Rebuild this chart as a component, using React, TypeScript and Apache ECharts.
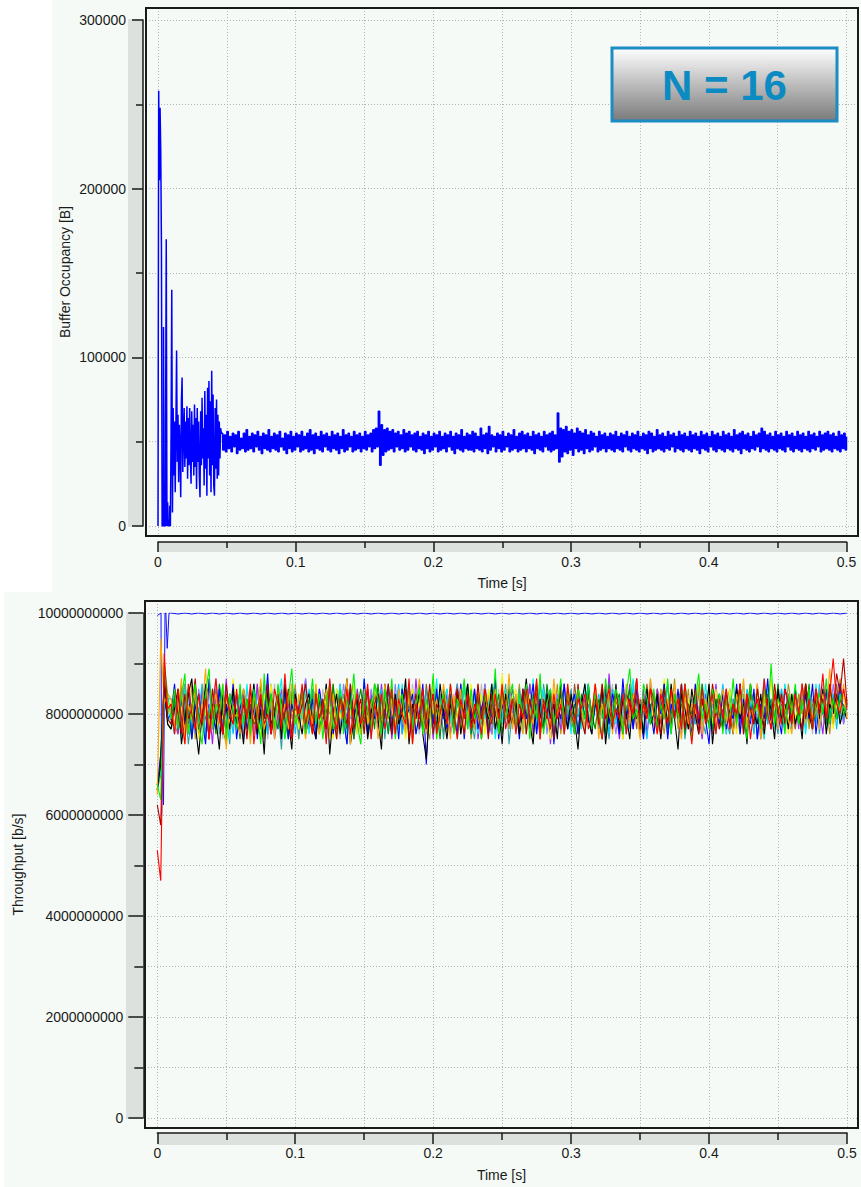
import React, { useEffect, useRef } from "react";
import * as echarts from "echarts";

// ---------------- data ----------------
// Time axis (s)
const timeMin = 0;
const timeMax = 0.5;
const timeInterval = 0.1;

// Top panel: buffer occupancy [B], values typed in kB
const bufferMax = 300000;
const bufferInterval = 100000;
const bufferEarlyStep = 0.0005; // samples from t = 0
const bufferEarly = [
  0, 258, 205, 248, 222, 165, 0, 0, 118, 0,
  0, 60, 170, 0, 14, 0, 0, 12, 0, 55,
  140, 8, 70, 30, 62, 20, 58, 104, 38, 66,
  26, 60, 45, 17, 74, 88, 32, 55, 70, 35,
  62, 40, 71, 28, 64, 36, 70, 42, 25, 68,
  38, 60, 30, 72, 35, 64, 22, 70, 38, 62,
  30, 17, 68, 36, 76, 40, 58, 24, 80, 34,
  66, 18, 82, 40, 86, 30, 74, 20, 92, 36,
  78, 24, 18, 70, 34, 75, 28, 66, 30, 62,
  40, 58,
];
const bufferSteadyStart = 0.046;
const bufferSteadyStep = 0.001;
const bufferSteady = [
  55, 45, 54, 44, 56, 46, 53, 44, 55, 47, 54, 43, 56, 45, 52, 46, 55, 44, 57, 45,
  53, 46, 55, 44, 54, 47, 56, 45, 53, 43, 55, 46, 54, 45, 57, 44, 53, 46, 55, 45,
  54, 44, 56, 47, 52, 45, 55, 43, 54, 46, 56, 44, 53, 45, 55, 47, 54, 44, 56, 45,
  53, 46, 55, 44, 57, 45, 54, 43, 55, 46, 53, 45, 56, 44, 54, 47, 55, 45, 53, 44,
  56, 46, 54, 45, 55, 43, 53, 46, 57, 44, 54, 45, 55, 47, 53, 44, 56, 45, 54, 46,
  55, 44, 53, 46, 56, 45, 54, 47, 55, 44, 57, 46, 58, 47, 68, 36, 60, 42, 57, 44,
  58, 45, 56, 46, 57, 44, 55, 47, 56, 45, 54, 46, 57, 44, 55, 45, 56, 47, 54, 45,
  55, 44, 56, 46, 53, 45, 55, 43, 54, 46, 56, 44, 53, 45, 55, 47, 54, 44, 56, 45,
  53, 46, 55, 44, 54, 47, 56, 45, 53, 43, 55, 46, 54, 45, 57, 44, 53, 46, 55, 45,
  54, 45, 56, 44, 55, 46, 53, 45, 58, 44, 54, 46, 55, 43, 59, 45, 54, 47, 53, 44,
  55, 46, 54, 44, 56, 45, 53, 47, 55, 44, 54, 45, 57, 46, 53, 44, 55, 45, 56, 46,
  54, 44, 55, 46, 53, 45, 56, 43, 54, 46, 55, 45, 53, 44, 56, 47, 54, 45, 55, 44,
  56, 45, 54, 46, 67, 38, 58, 41, 57, 44, 59, 43, 56, 45, 57, 42, 55, 46, 58, 44,
  56, 45, 55, 43, 57, 46, 54, 44, 56, 45, 55, 47, 53, 44, 56, 45, 54, 46, 55, 44,
  53, 46, 55, 45, 54, 44, 56, 46, 53, 45, 55, 44, 54, 47, 56, 45, 53, 44, 55, 46,
  54, 45, 56, 44, 53, 46, 55, 45, 54, 43, 56, 46, 55, 44, 53, 45, 57, 46, 54, 45,
  55, 44, 53, 46, 56, 45, 54, 47, 55, 44, 53, 46, 56, 45, 54, 44, 55, 46, 53, 45,
  56, 44, 54, 46, 55, 45, 53, 43, 56, 46, 54, 45, 55, 44, 53, 47, 56, 45, 54, 44,
  55, 46, 53, 45, 56, 44, 54, 46, 55, 45, 53, 44, 57, 46, 54, 45, 55, 43, 56, 46,
  54, 45, 55, 44, 53, 46, 56, 45, 54, 47, 55, 44, 58, 46, 56, 45, 54, 44, 55, 46,
  53, 45, 56, 44, 54, 46, 55, 45, 53, 44, 56, 47, 54, 45, 55, 44, 53, 46, 56, 45,
  54, 44, 55, 46, 53, 45, 56, 44, 54, 46, 55, 45, 53, 47, 56, 44, 54, 45, 55, 46,
  56, 45, 54, 44, 55, 46, 53, 45, 56, 44, 54, 46, 55, 45, 53,
];

// Bottom panel: throughput [b/s], values typed in units of 1e8 b/s
const throughputMax = 10000000000;
const throughputInterval = 2000000000;

// aggregate (blue, top line)
const aggStartTimes = [0, 0.0027, 0.0031, 0.0036, 0.0045, 0.0056, 0.0062, 0.0072, 0.0077, 0.0085, 0.009, 0.0095];
const aggStartValues = [99.5, 100, 60, 70, 62, 100, 100, 93, 93, 100, 100, 100];
const aggSteadyStart = 0.01;
const aggSteadyStep = 0.005;
const aggSteady = [
  100, 99.8, 100, 99.8, 100, 99.8, 100, 99.8, 100, 99.8, 100, 99.8, 100, 99.8, 100, 99.8, 100, 99.8, 100, 99.8,
  100, 99.8, 100, 99.8, 100, 99.8, 100, 99.8, 100, 99.8, 100, 99.8, 100, 99.8, 100, 99.8, 100, 99.8, 100, 99.8,
  100, 99.8, 100, 99.8, 100, 99.8, 100, 99.8, 100, 99.8, 100, 99.8, 100, 99.8, 100, 99.8, 100, 99.8, 100, 99.8,
  100, 99.8, 100, 99.8, 100, 99.8, 100, 99.8, 100, 99.8, 100, 99.8, 100, 99.8, 100, 99.8, 100, 99.8, 100, 99.8,
  100, 99.8, 100, 99.8, 100, 99.8, 100, 99.8, 100, 99.8, 100, 99.8, 100, 99.8, 100, 99.8, 100, 99.8, 100,
];

// 16 flows: first 4 values at flowStartTimes, then steady samples every flowSteadyStep
const flowStartTimes = [0, 0.0025, 0.005, 0.0075];
const flowSteadyStart = 0.01;
const flowSteadyStep = 0.0025;

const flowGrey = [66, 69, 83, 81,
  81, 77, 84, 80, 75, 85, 79, 82, 76, 86, 80, 77, 84, 79, 81, 75, 85, 80, 77, 83,
  80, 84, 77, 81, 76, 85, 79, 83, 75, 80, 86, 77, 81, 84, 79, 76, 85, 80, 83, 77,
  79, 83, 80, 76, 85, 81, 77, 84, 80, 75, 82, 79, 86, 77, 81, 80, 76, 84, 79, 83,
  80, 77, 85, 81, 76, 84, 79, 80, 83, 77, 86, 80, 76, 82, 79, 85, 81, 77, 80, 84,
  78, 82, 76, 85, 80, 83, 77, 84, 81, 79, 86, 77, 83, 80, 76, 85, 79, 82, 80, 77,
  84, 79, 81, 76, 86, 80, 78, 83, 79, 85, 77, 82, 80, 86, 76, 81, 84, 78, 80, 83,
  77, 85, 80, 82, 79, 75, 84, 81, 86, 78, 83, 80, 77, 85, 79, 82, 76, 84, 80, 87,
  82, 78, 85, 80, 76, 84, 79, 81, 77, 86, 80, 83, 78, 84, 75, 82, 80, 85, 79, 81,
  79, 84, 77, 83, 80, 86, 78, 81, 85, 76, 83, 80, 79, 85, 77, 84, 81, 78, 86, 80,
  83, 77, 81, 85, 79, 82, 76, 84, 80, 86, 78, 83, 80, 85, 79, 81, 80];
const flowSienna = [66, 71, 83, 79,
  79, 83, 80, 77, 85, 81, 76, 84, 80, 78, 83, 86, 77, 81, 80, 76, 84, 79, 82, 80,
  77, 85, 81, 78, 84, 76, 83, 80, 86, 77, 81, 79, 84, 80, 76, 83, 85, 78, 81, 77,
  80, 84, 78, 82, 77, 85, 80, 81, 76, 84, 79, 86, 80, 77, 83, 81, 78, 85, 76, 80,
  84, 78, 81, 77, 83, 80, 85, 76, 82, 84, 78, 80, 83, 77, 86, 80, 78, 84, 81, 76,
  82, 79, 77, 85, 80, 82, 84, 79, 77, 83, 80, 86, 79, 76, 82, 81, 78, 85, 80, 83,
  77, 84, 81, 79, 86, 77, 82, 80, 85, 78, 83, 76, 81, 84, 79, 82, 77, 86, 80, 78,
  83, 80, 77, 84, 79, 81, 86, 78, 82, 80, 76, 85, 81, 79, 84, 77, 83, 80, 86, 79,
  80, 85, 78, 82, 76, 84, 80, 83, 79, 86, 77, 82, 80, 85, 78, 81, 84, 76, 83, 80,
  78, 83, 81, 77, 85, 80, 82, 76, 84, 79, 86, 78, 81, 83, 77, 85, 80, 82, 79, 84,
  81, 77, 84, 80, 86, 78, 82, 79, 85, 80, 77, 83, 81, 86, 79, 82, 80];
const flowOlive = [65, 68, 85, 80,
  82, 78, 76, 85, 80, 77, 86, 75, 81, 84, 79, 76, 85, 80, 83, 77, 74, 84, 81, 79,
  85, 76, 80, 83, 77, 86, 79, 75, 84, 81, 76, 85, 80, 77, 83, 79, 86, 75, 81, 84,
  77, 80, 85, 76, 83, 79, 81, 86, 75, 80, 84, 77, 83, 79, 85, 76, 81, 80, 77, 86,
  84, 75, 81, 79, 85, 77, 83, 80, 76, 86, 79, 81, 84, 77, 80, 75, 85, 83, 79, 81,
  76, 84, 80, 77, 86, 79, 83, 75, 81, 85, 78, 80, 84, 76, 83, 79, 81, 85, 77, 82,
  80, 86, 77, 83, 79, 75, 85, 80, 82, 77, 84, 79, 86, 76, 81, 83, 78, 80, 85, 77,
  83, 79, 76, 84, 81, 86, 77, 80, 85, 78, 82, 75, 84, 80, 79, 86, 76, 83, 81, 78,
  79, 85, 81, 76, 83, 80, 87, 77, 82, 79, 85, 76, 81, 84, 78, 80, 86, 77, 83, 80,
  77, 82, 85, 79, 80, 76, 84, 81, 86, 78, 83, 79, 75, 85, 80, 82, 77, 84, 79, 86,
  81, 78, 84, 80, 86, 77, 83, 79, 85, 80, 82, 76, 84, 81, 87, 79, 83];
const flowPurple = [65, 70, 86, 79,
  79, 84, 76, 81, 86, 78, 80, 83, 77, 85, 79, 82, 74, 84, 80, 78, 87, 76, 83, 79,
  85, 75, 81, 80, 78, 86, 77, 83, 79, 84, 75, 80, 85, 78, 82, 76, 84, 79, 81, 87,
  77, 83, 78, 85, 80, 75, 84, 81, 79, 86, 77, 80, 83, 75, 85, 79, 82, 76, 84, 80,
  78, 86, 79, 83, 75, 81, 85, 77, 80, 84, 76, 87, 79, 82, 78, 85, 75, 83, 80, 79,
  84, 76, 82, 86, 78, 80, 83, 79, 85, 75, 81, 84, 77, 80, 87, 76, 83, 79, 81, 85,
  80, 77, 84, 79, 86, 76, 82, 80, 78, 85, 74, 83, 80, 77, 86, 79, 82, 76, 84, 81,
  83, 79, 76, 85, 80, 82, 77, 88, 79, 81, 75, 84, 80, 86, 77, 83, 79, 85, 76, 82,
  77, 85, 80, 83, 76, 84, 79, 81, 86, 77, 82, 78, 85, 80, 75, 84, 81, 79, 86, 78,
  81, 76, 84, 80, 85, 78, 83, 77, 86, 79, 82, 75, 84, 80, 78, 85, 77, 83, 80, 84,
  79, 83, 77, 86, 80, 82, 78, 85, 81, 76, 84, 80, 83, 79, 86, 78, 82];
const flowSlate = [66, 70, 84, 83,
  83, 80, 77, 82, 86, 79, 81, 76, 85, 80, 83, 78, 80, 87, 79, 82, 76, 84, 80, 78,
  82, 79, 85, 81, 76, 84, 80, 86, 77, 81, 79, 84, 76, 83, 80, 85, 78, 81, 79, 87,
  80, 77, 84, 81, 79, 85, 76, 83, 80, 77, 86, 81, 79, 84, 76, 80, 83, 79, 85, 81,
  77, 84, 80, 83, 76, 86, 79, 81, 84, 77, 80, 85, 79, 83, 76, 82, 80, 86, 77, 83,
  80, 84, 78, 82, 79, 85, 80, 83, 77, 81, 79, 86, 80, 76, 84, 82, 78, 85, 79, 81,
  84, 78, 81, 86, 77, 83, 80, 79, 85, 76, 82, 80, 84, 78, 86, 79, 81, 77, 83, 80,
  79, 85, 77, 82, 80, 84, 78, 86, 81, 76, 83, 79, 85, 80, 78, 84, 77, 82, 80, 86,
  81, 77, 84, 79, 86, 78, 82, 80, 76, 85, 81, 79, 83, 77, 86, 80, 78, 84, 81, 79,
  85, 80, 78, 83, 77, 86, 79, 82, 80, 84, 76, 81, 85, 79, 83, 78, 86, 80, 77, 82,
  80, 84, 79, 86, 77, 82, 80, 85, 78, 83, 81, 79, 86, 80, 84, 78, 82];
const flowTeal = [66, 68, 83, 81,
  81, 76, 84, 79, 83, 74, 80, 86, 77, 83, 75, 81, 79, 85, 76, 82, 80, 74, 86, 79,
  84, 77, 81, 75, 85, 80, 77, 83, 76, 86, 79, 81, 73, 84, 80, 77, 85, 75, 83, 79,
  80, 85, 76, 83, 78, 86, 75, 81, 84, 77, 80, 74, 85, 79, 83, 76, 84, 80, 77, 86,
  79, 83, 75, 85, 80, 76, 84, 78, 82, 86, 75, 83, 77, 80, 85, 76, 81, 79, 84, 75,
  83, 80, 77, 86, 76, 81, 85, 79, 75, 84, 80, 83, 77, 85, 76, 82, 79, 86, 74, 81,
  78, 85, 80, 76, 84, 79, 82, 75, 86, 80, 77, 83, 79, 84, 76, 81, 85, 78, 80, 83,
  76, 82, 79, 86, 77, 84, 80, 75, 83, 81, 78, 85, 76, 82, 80, 87, 77, 83, 79, 84,
  81, 77, 85, 79, 82, 76, 84, 80, 86, 75, 81, 83, 78, 85, 79, 76, 84, 80, 82, 77,
  85, 79, 76, 83, 80, 86, 77, 82, 79, 84, 75, 81, 86, 78, 83, 80, 76, 85, 79, 82,
  77, 84, 80, 86, 78, 82, 79, 85, 76, 83, 80, 84, 78, 81, 85, 79, 82];
const flowSky = [65, 69, 85, 80,
  80, 76, 84, 81, 78, 85, 77, 83, 80, 86, 76, 81, 84, 79, 80, 77, 85, 81, 76, 83,
  79, 84, 80, 77, 86, 81, 78, 83, 76, 85, 80, 77, 84, 81, 79, 86, 76, 82, 80, 78,
  85, 80, 78, 83, 77, 84, 81, 76, 85, 80, 83, 78, 86, 77, 81, 80, 84, 76, 83, 79,
  80, 85, 77, 82, 79, 81, 86, 76, 80, 84, 78, 83, 77, 85, 80, 81, 76, 84, 79, 82,
  85, 79, 77, 83, 80, 86, 81, 76, 84, 80, 78, 85, 77, 82, 80, 79, 84, 78, 86, 81,
  77, 83, 80, 85, 78, 82, 76, 86, 80, 79, 84, 77, 83, 81, 78, 85, 80, 76, 84, 82,
  80, 86, 77, 81, 84, 79, 83, 76, 85, 80, 78, 84, 81, 77, 86, 79, 82, 80, 75, 85,
  81, 78, 84, 80, 86, 77, 82, 79, 85, 76, 83, 80, 78, 86, 81, 79, 84, 77, 82, 80,
  86, 79, 81, 77, 84, 80, 78, 85, 82, 76, 83, 80, 87, 78, 81, 84, 79, 85, 77, 82,
  79, 84, 80, 85, 77, 83, 81, 78, 86, 80, 82, 79, 84, 77, 85, 80, 81];
const flowCyan = [65, 69, 84, 80,
  78, 83, 80, 75, 85, 79, 82, 86, 77, 80, 84, 76, 83, 79, 86, 78, 81, 75, 85, 80,
  83, 77, 86, 79, 81, 76, 84, 80, 78, 85, 77, 82, 87, 75, 80, 84, 78, 83, 79, 86,
  76, 81, 85, 78, 83, 75, 84, 80, 77, 86, 81, 76, 85, 79, 83, 77, 87, 80, 75, 84,
  81, 79, 85, 76, 83, 80, 77, 86, 79, 82, 84, 76, 80, 85, 77, 83, 79, 87, 76, 82,
  85, 78, 82, 75, 81, 86, 77, 83, 80, 76, 84, 79, 82, 86, 75, 81, 78, 85, 80, 83,
  79, 84, 76, 82, 80, 87, 77, 81, 85, 78, 83, 75, 80, 86, 79, 82, 76, 84, 81, 77,
  86, 80, 77, 84, 79, 82, 75, 85, 81, 78, 84, 80, 76, 83, 87, 79, 81, 77, 85, 80,
  78, 83, 80, 86, 76, 82, 79, 84, 77, 85, 80, 75, 83, 81, 78, 86, 79, 82, 76, 84,
  82, 76, 85, 79, 83, 80, 86, 77, 81, 84, 78, 82, 75, 85, 80, 77, 84, 79, 86, 81,
  80, 85, 78, 83, 76, 84, 80, 86, 79, 82, 77, 85, 80, 83, 78, 84, 80];
const flowYellow = [66, 71, 84, 82,
  80, 77, 85, 81, 76, 84, 79, 86, 75, 82, 80, 77, 85, 76, 81, 79, 84, 77, 87, 80,
  76, 83, 79, 85, 78, 82, 75, 84, 80, 86, 77, 83, 79, 76, 85, 80, 81, 77, 84, 79,
  83, 76, 86, 80, 77, 84, 81, 75, 85, 79, 83, 77, 80, 86, 76, 81, 84, 79, 77, 85,
  80, 76, 83, 79, 86, 77, 82, 84, 75, 80, 85, 78, 83, 77, 82, 76, 87, 80, 79, 84,
  77, 83, 80, 85, 76, 82, 79, 86, 78, 80, 84, 76, 85, 79, 81, 77, 88, 80, 78, 83,
  85, 78, 81, 76, 84, 80, 86, 77, 83, 79, 75, 85, 80, 82, 77, 86, 79, 83, 76, 81,
  79, 84, 77, 86, 80, 82, 76, 85, 78, 83, 80, 75, 84, 81, 79, 86, 77, 82, 80, 85,
  76, 82, 80, 87, 78, 84, 79, 81, 85, 77, 83, 79, 86, 76, 82, 80, 84, 78, 85, 79,
  83, 77, 85, 80, 76, 84, 81, 78, 86, 79, 82, 77, 84, 80, 87, 78, 83, 79, 81, 76,
  84, 79, 82, 77, 86, 80, 78, 85, 81, 83, 79, 86, 77, 82, 80, 84, 79];
const flowDarkGreen = [65, 72, 87, 78,
  77, 83, 80, 86, 79, 81, 75, 84, 80, 78, 85, 79, 82, 76, 86, 80, 77, 84, 79, 81,
  75, 85, 80, 82, 78, 79, 86, 76, 81, 84, 80, 77, 83, 79, 75, 85, 81, 80, 84, 77,
  83, 79, 85, 77, 80, 81, 76, 86, 79, 83, 80, 77, 84, 75, 81, 85, 79, 80, 83, 77,
  86, 79, 81, 76, 84, 80, 78, 85, 79, 82, 76, 81, 86, 80, 77, 84, 79, 81, 75, 85,
  80, 83, 77, 84, 79, 81, 86, 76, 80, 83, 79, 85, 77, 82, 80, 84, 76, 81, 85, 78,
  82, 76, 85, 80, 78, 84, 79, 83, 77, 86, 80, 75, 83, 81, 78, 85, 79, 82, 76, 84,
  79, 85, 80, 77, 83, 81, 76, 86, 79, 82, 84, 77, 80, 85, 78, 83, 80, 76, 85, 81,
  84, 78, 81, 86, 77, 80, 83, 79, 85, 76, 82, 80, 84, 78, 86, 79, 81, 77, 83, 80,
  77, 84, 80, 82, 79, 86, 76, 83, 81, 78, 85, 80, 77, 84, 82, 79, 86, 78, 81, 83,
  80, 85, 78, 83, 79, 86, 77, 82, 80, 84, 78, 85, 81, 79, 83, 80, 82];
const flowBlue = [66, 72, 85, 79,
  80, 86, 77, 83, 78, 85, 75, 81, 84, 79, 74, 87, 80, 77, 85, 76, 82, 79, 86, 75,
  81, 84, 77, 80, 85, 75, 83, 79, 88, 76, 80, 84, 77, 86, 75, 82, 79, 81, 85, 76,
  79, 83, 75, 85, 80, 77, 86, 76, 81, 84, 79, 74, 85, 80, 83, 77, 87, 76, 81, 79,
  84, 76, 80, 86, 77, 83, 75, 85, 79, 81, 84, 76, 80, 86, 70, 83, 78, 85, 77, 81,
  77, 84, 80, 76, 86, 75, 83, 79, 85, 77, 81, 84, 76, 80, 87, 75, 82, 79, 84, 78,
  82, 75, 85, 79, 81, 86, 76, 83, 78, 80, 85, 74, 82, 79, 86, 77, 81, 84, 76, 83,
  79, 86, 77, 82, 80, 75, 85, 78, 84, 81, 76, 87, 79, 83, 77, 85, 80, 75, 84, 81,
  76, 83, 80, 86, 75, 82, 79, 85, 77, 84, 80, 76, 86, 78, 83, 79, 74, 85, 81, 78,
  84, 77, 81, 79, 86, 76, 83, 80, 78, 85, 75, 82, 79, 87, 77, 84, 80, 76, 85, 82,
  78, 85, 80, 77, 84, 79, 86, 76, 82, 80, 85, 78, 83, 79, 86, 80, 81];
const flowBlack = [65, 70, 86, 78,
  77, 81, 85, 74, 79, 84, 87, 78, 72, 80, 86, 75, 82, 79, 73, 84, 81, 77, 85, 78,
  80, 74, 83, 79, 86, 76, 81, 72, 85, 78, 80, 83, 75, 86, 79, 73, 84, 80, 76, 82,
  84, 78, 75, 83, 79, 86, 72, 80, 84, 76, 81, 87, 74, 79, 83, 77, 85, 75, 80, 84,
  79, 73, 86, 81, 76, 84, 78, 80, 87, 74, 82, 79, 85, 76, 71, 81, 84, 77, 86, 80,
  75, 82, 79, 85, 76, 81, 86, 78, 80, 84, 75, 83, 79, 86, 77, 81, 74, 84, 80, 78,
  83, 76, 81, 87, 78, 74, 85, 80, 77, 84, 79, 82, 75, 86, 81, 77, 84, 79, 73, 82,
  86, 79, 76, 83, 80, 85, 74, 81, 78, 86, 77, 83, 80, 75, 84, 79, 82, 76, 85, 78,
  80, 84, 75, 82, 78, 86, 79, 73, 84, 81, 77, 85, 80, 76, 83, 79, 86, 74, 81, 84,
  77, 83, 80, 76, 85, 79, 82, 74, 86, 80, 78, 84, 76, 83, 81, 75, 85, 79, 82, 77,
  84, 78, 81, 75, 86, 80, 77, 83, 79, 85, 76, 82, 80, 84, 78, 81, 79];
const flowOrange = [64, 95, 82, 84,
  83, 77, 80, 87, 74, 82, 79, 85, 76, 81, 89, 75, 80, 84, 78, 86, 73, 82, 79, 80,
  76, 85, 81, 74, 84, 79, 87, 77, 80, 83, 75, 85, 79, 82, 77, 86, 78, 84, 80, 75,
  82, 78, 86, 76, 80, 85, 75, 84, 78, 82, 79, 87, 74, 83, 80, 76, 85, 78, 82, 84,
  75, 80, 86, 79, 83, 76, 85, 80, 77, 84, 74, 81, 87, 79, 76, 85, 80, 83, 77, 86,
  81, 75, 84, 79, 85, 76, 80, 83, 77, 86, 75, 84, 80, 78, 85, 76, 83, 79, 88, 77,
  84, 79, 76, 85, 81, 78, 86, 75, 82, 80, 77, 87, 79, 83, 76, 84, 80, 78, 85, 81,
  77, 84, 80, 86, 75, 82, 79, 85, 76, 83, 81, 77, 86, 78, 84, 80, 75, 83, 79, 87,
  80, 76, 85, 79, 83, 77, 86, 80, 75, 84, 78, 82, 80, 86, 76, 83, 79, 85, 77, 81,
  85, 78, 82, 76, 84, 80, 87, 77, 81, 79, 86, 75, 83, 80, 78, 85, 77, 84, 81, 79,
  76, 83, 80, 86, 78, 82, 79, 85, 77, 84, 80, 89, 78, 83, 80, 86, 79];
const flowDarkRed = [62, 58, 88, 79,
  78, 85, 80, 76, 84, 79, 81, 87, 77, 80, 83, 75, 85, 79, 82, 76, 86, 80, 78, 84,
  79, 82, 75, 85, 80, 77, 83, 79, 86, 76, 81, 84, 78, 80, 85, 75, 83, 79, 82, 86,
  80, 76, 84, 79, 83, 77, 85, 80, 75, 84, 81, 78, 86, 77, 80, 83, 76, 85, 79, 82,
  84, 77, 80, 86, 76, 83, 79, 81, 85, 75, 80, 84, 77, 83, 79, 86, 76, 82, 80, 84,
  79, 83, 77, 85, 80, 76, 84, 81, 78, 86, 79, 82, 75, 84, 80, 77, 85, 81, 78, 83,
  81, 78, 85, 76, 83, 80, 86, 77, 82, 79, 84, 75, 81, 85, 78, 83, 80, 76, 86, 79,
  76, 84, 80, 83, 78, 86, 79, 81, 77, 85, 80, 76, 84, 82, 79, 87, 77, 83, 80, 85,
  83, 79, 76, 85, 81, 78, 84, 80, 86, 77, 82, 79, 85, 76, 83, 80, 78, 86, 81, 77,
  80, 85, 78, 82, 79, 86, 76, 84, 81, 78, 85, 80, 77, 83, 79, 86, 80, 84, 78, 82,
  79, 84, 80, 77, 86, 81, 78, 85, 80, 83, 79, 86, 81, 88, 84, 91, 82];
const flowGreen = [66, 63, 90, 84,
  79, 85, 77, 83, 88, 76, 81, 86, 78, 74, 84, 89, 77, 82, 80, 86, 75, 84, 81, 77,
  86, 78, 83, 76, 85, 80, 74, 88, 79, 84, 77, 86, 81, 75, 83, 89, 78, 80, 85, 76,
  80, 87, 78, 84, 75, 82, 86, 77, 79, 85, 76, 83, 81, 88, 78, 74, 84, 81, 77, 86,
  83, 76, 85, 79, 87, 75, 81, 84, 78, 86, 77, 82, 85, 76, 83, 79, 88, 75, 81, 84,
  78, 86, 76, 83, 81, 87, 77, 85, 79, 82, 75, 84, 80, 78, 89, 76, 84, 79, 83, 86,
  77, 84, 80, 86, 75, 83, 79, 88, 76, 82, 85, 78, 81, 87, 77, 84, 80, 76, 85, 82,
  79, 86, 77, 84, 81, 75, 87, 80, 78, 85, 82, 76, 84, 89, 79, 81, 77, 86, 83, 78,
  85, 77, 82, 79, 87, 76, 84, 80, 78, 86, 81, 75, 83, 88, 79, 82, 77, 85, 80, 84,
  76, 83, 79, 87, 78, 84, 81, 75, 86, 80, 82, 77, 85, 79, 90, 78, 83, 81, 76, 84,
  80, 86, 78, 83, 79, 85, 77, 82, 84, 80, 87, 78, 83, 79, 84, 80, 82];
const flowRed = [53, 47, 92, 81,
  82, 76, 85, 79, 74, 86, 80, 77, 84, 78, 83, 75, 81, 87, 79, 76, 84, 80, 78, 85,
  77, 83, 79, 86, 74, 81, 84, 78, 80, 76, 85, 82, 77, 88, 79, 75, 83, 80, 86, 78,
  81, 76, 84, 79, 82, 74, 87, 80, 77, 83, 79, 85, 76, 81, 84, 78, 80, 86, 75, 82,
  79, 84, 77, 81, 85, 76, 83, 80, 78, 87, 74, 82, 79, 85, 77, 81, 84, 76, 80, 83,
  78, 86, 80, 75, 83, 79, 84, 77, 82, 80, 76, 85, 81, 78, 84, 79, 86, 77, 80, 83,
  76, 82, 79, 85, 78, 81, 87, 75, 83, 80, 77, 84, 79, 82, 76, 86, 80, 78, 83, 81,
  84, 77, 80, 86, 79, 75, 82, 85, 78, 81, 79, 84, 76, 83, 80, 87, 77, 82, 79, 85,
  80, 76, 84, 81, 78, 85, 79, 83, 77, 86, 80, 74, 82, 79, 85, 78, 81, 84, 76, 83,
  79, 85, 77, 82, 80, 86, 78, 84, 75, 81, 83, 79, 87, 80, 77, 84, 81, 78, 85, 82,
  78, 84, 80, 86, 79, 83, 77, 85, 81, 88, 79, 84, 91, 82, 80, 85, 81];

// drawing order (last on top) and colours
const flowNames = [
  "grey", "sienna", "olive", "purple", "slate", "teal", "sky", "cyan",
  "yellow", "darkgreen", "blue", "black", "orange", "darkred", "green", "red",
];
const flowValues = [
  flowGrey, flowSienna, flowOlive, flowPurple, flowSlate, flowTeal, flowSky, flowCyan,
  flowYellow, flowDarkGreen, flowBlue, flowBlack, flowOrange, flowDarkRed, flowGreen, flowRed,
];
const flowColors = [
  "#bdbdbd", "#a0522d", "#b59414", "#a020f0", "#8a7cff", "#2f9ea3", "#00bfff", "#00f0f0",
  "#f5f500", "#008a00", "#0000ff", "#000000", "#ffa500", "#b00000", "#00ee00", "#ff0000",
];

// ---------------- layout / style ----------------
const FONT = '"Liberation Sans", Arial, Helvetica, sans-serif';
const INK = "#1a1a1a";
const PAGE_BG = "#f5faf7";
const STRIP = "#dce1de";
const GRID_LINE = "#b4b4b4";

const TOP = { frame: { l: 146, t: 8, r: 858, b: 536 }, data: { l: 158, t: 20, r: 846.5, b: 526 } };
const BOT = { frame: { l: 145, t: 601, r: 858, b: 1128 }, data: { l: 157.3, t: 613, r: 847, b: 1118 } };

function padX(p: any, min: number, max: number) {
  const k = (max - min) / (p.data.r - p.data.l);
  return [min - (p.data.l - p.frame.l) * k, max + (p.frame.r - p.data.r) * k];
}
function padY(p: any, min: number, max: number) {
  const k = (max - min) / (p.data.b - p.data.t);
  return [min - (p.frame.b - p.data.b) * k, max + (p.data.t - p.frame.t) * k];
}
function gridOf(p: any, which: "frame" | "data") {
  const r = p[which];
  return { left: r.l, top: r.t, width: r.r - r.l, height: r.b - r.t, containLabel: false };
}

const plain = (v: number) => String(v);

function frameXAxis(grid: number, range: number[]) {
  return {
    type: "value", gridIndex: grid, min: range[0], max: range[1],
    minInterval: 0.05, maxInterval: 0.05,
    axisLine: { show: false }, axisTick: { show: false }, axisLabel: { show: false },
    splitLine: { show: true, lineStyle: { color: GRID_LINE, width: 1, type: [1, 2] } },
  };
}
function frameYAxis(grid: number, range: number[], step: number) {
  return {
    type: "value", gridIndex: grid, min: range[0], max: range[1],
    minInterval: step, maxInterval: step,
    axisLine: { show: false }, axisTick: { show: false }, axisLabel: { show: false },
    splitLine: { show: true, lineStyle: { color: GRID_LINE, width: 1, type: [1, 2] } },
  };
}
function dataXAxis(grid: number, offset: number, tickLen: number, minorLen: number) {
  return {
    type: "value", gridIndex: grid, position: "bottom", offset,
    min: timeMin, max: timeMax, interval: timeInterval,
    axisLine: { show: true, onZero: false, lineStyle: { color: INK, width: 1.5 } },
    axisTick: { show: true, inside: false, length: tickLen, lineStyle: { color: INK, width: 1.5 } },
    minorTick: { show: true, splitNumber: 2, length: minorLen, lineStyle: { color: INK, width: 1.5 } },
    splitLine: { show: false }, minorSplitLine: { show: false },
    axisLabel: { margin: 13, color: INK, fontFamily: FONT, fontSize: 14, formatter: plain },
  };
}
function dataYAxis(grid: number, max: number, interval: number, offset: number, tickLen: number, minorLen: number, margin: number) {
  return {
    type: "value", gridIndex: grid, position: "left", offset,
    min: 0, max, interval,
    axisLine: { show: true, onZero: false, lineStyle: { color: INK, width: 1.5 } },
    axisTick: { show: true, inside: false, length: tickLen, lineStyle: { color: INK, width: 1.5 } },
    minorTick: { show: true, splitNumber: 2, length: minorLen, lineStyle: { color: INK, width: 1.5 } },
    splitLine: { show: false }, minorSplitLine: { show: false },
    axisLabel: { margin, color: INK, fontFamily: FONT, fontSize: 14, formatter: plain },
  };
}

function textEl(text: string, x: number, y: number, rotation = 0, font = `14px ${FONT}`, fill = INK) {
  return {
    type: "text", x, y, rotation, z: 80, silent: true,
    style: { text, font, fill, textAlign: "center", textVerticalAlign: "middle", align: "center", verticalAlign: "middle" },
  };
}
function rectEl(x: number, y: number, w: number, h: number, style: any, z: number) {
  return { type: "rect", shape: { x, y, width: w, height: h }, style, z, silent: true };
}

function buildOption() {
  const bufferData: number[][] = [];
  bufferEarly.forEach((v, i) => bufferData.push([i * bufferEarlyStep, v * 1000]));
  bufferSteady.forEach((v, i) => bufferData.push([bufferSteadyStart + i * bufferSteadyStep, v * 1000]));

  const aggData: number[][] = [];
  aggStartValues.forEach((v, i) => aggData.push([aggStartTimes[i], v * 1e8]));
  aggSteady.forEach((v, i) => aggData.push([aggSteadyStart + i * aggSteadyStep, v * 1e8]));

  const flowSeries = flowValues.map((vals, k) => ({
    type: "line", name: flowNames[k], xAxisIndex: 3, yAxisIndex: 3,
    data: vals.map((v, i) => [
      i < flowStartTimes.length ? flowStartTimes[i] : flowSteadyStart + (i - flowStartTimes.length) * flowSteadyStep,
      v * 1e8,
    ]),
    showSymbol: false, symbol: "none", silent: true, clip: true,
    lineStyle: { color: flowColors[k], width: 1.1 }, itemStyle: { color: flowColors[k] },
  }));

  const topX = padX(TOP, timeMin, timeMax);
  const topY = padY(TOP, 0, bufferMax);
  const botX = padX(BOT, timeMin, timeMax);
  const botY = padY(BOT, 0, throughputMax);

  const boxGradient = new echarts.graphic.LinearGradient(0, 0, 0, 1, [
    { offset: 0, color: "#ffffff" },
    { offset: 1, color: "#7a7a7a" },
  ]);

  return {
    animation: false,
    backgroundColor: "#ffffff",
    grid: [gridOf(TOP, "frame"), gridOf(TOP, "data"), gridOf(BOT, "frame"), gridOf(BOT, "data")],
    xAxis: [
      frameXAxis(0, topX),
      dataXAxis(1, TOP.frame.b - TOP.data.b + 6, 10, 6),
      frameXAxis(2, botX),
      dataXAxis(3, BOT.frame.b - BOT.data.b + 5, 11, 7),
    ],
    yAxis: [
      frameYAxis(0, topY, 50000),
      dataYAxis(1, bufferMax, bufferInterval, TOP.data.l - 143, 11, 7, 17),
      frameYAxis(2, botY, 1000000000),
      dataYAxis(3, throughputMax, throughputInterval, BOT.data.l - 143.3, 15, 9, 20),
    ],
    series: [
      {
        type: "line", name: "buffer", xAxisIndex: 1, yAxisIndex: 1, data: bufferData,
        step: "end",
        showSymbol: false, symbol: "none", silent: true, clip: true,
        lineStyle: { color: "#0000ff", width: 1.5 }, itemStyle: { color: "#0000ff" },
      },
      {
        type: "line", name: "aggregate", xAxisIndex: 3, yAxisIndex: 3, data: aggData,
        showSymbol: false, symbol: "none", silent: true, clip: true,
        lineStyle: { color: "#1010ff", width: 1 }, itemStyle: { color: "#1010ff" },
      },
      ...flowSeries,
    ],
    graphic: {
      elements: [
        rectEl(52, 0, 809, 592, { fill: PAGE_BG }, -10),
        rectEl(4, 592, 857, 595, { fill: PAGE_BG }, -10),
        // axis strips
        rectEl(128, TOP.data.t - 1, 15, TOP.data.b - TOP.data.t + 2, { fill: STRIP }, -5),
        rectEl(TOP.data.l, 542, TOP.data.r - TOP.data.l, 10, { fill: STRIP }, -5),
        rectEl(126, BOT.data.t - 1, 17.3, BOT.data.b - BOT.data.t + 2, { fill: STRIP }, -5),
        rectEl(BOT.data.l, 1133, BOT.data.r - BOT.data.l, 12, { fill: STRIP }, -5),
        // frames
        rectEl(TOP.frame.l, TOP.frame.t, TOP.frame.r - TOP.frame.l, TOP.frame.b - TOP.frame.t, { fill: "none", stroke: INK, lineWidth: 2 }, 50),
        rectEl(BOT.frame.l, BOT.frame.t, BOT.frame.r - BOT.frame.l, BOT.frame.b - BOT.frame.t, { fill: "none", stroke: INK, lineWidth: 2 }, 50),
        // titles
        textEl("Buffer Occupancy [B]", 65, (TOP.frame.t + TOP.frame.b) / 2, Math.PI / 2),
        textEl("Time [s]", (TOP.frame.l + TOP.frame.r) / 2, 583),
        textEl("Throughput [b/s]", 18, (BOT.frame.t + BOT.frame.b) / 2, Math.PI / 2),
        textEl("Time [s]", (BOT.frame.l + BOT.frame.r) / 2, 1175),
        // N = 16 badge
        rectEl(612, 48, 225, 73, { fill: boxGradient, stroke: "#1b8cc4", lineWidth: 3 }, 70),
        textEl("N = 16", 724.5, 85, 0, `bold 42px ${FONT}`, "#0b8bc2"),
      ],
    },
  };
}

export default function App() {
  const ref = useRef<HTMLDivElement>(null);
  useEffect(() => {
    if (!ref.current) return;
    const chart = echarts.init(ref.current, null, { renderer: "svg" });
    chart.setOption(buildOption() as any);
    return () => chart.dispose();
  }, []);
  return (
    <div
      ref={ref}
      style={{ position: "absolute", left: 0, top: 0, width: 861, height: 1187, background: "#ffffff" }}
    />
  );
}
